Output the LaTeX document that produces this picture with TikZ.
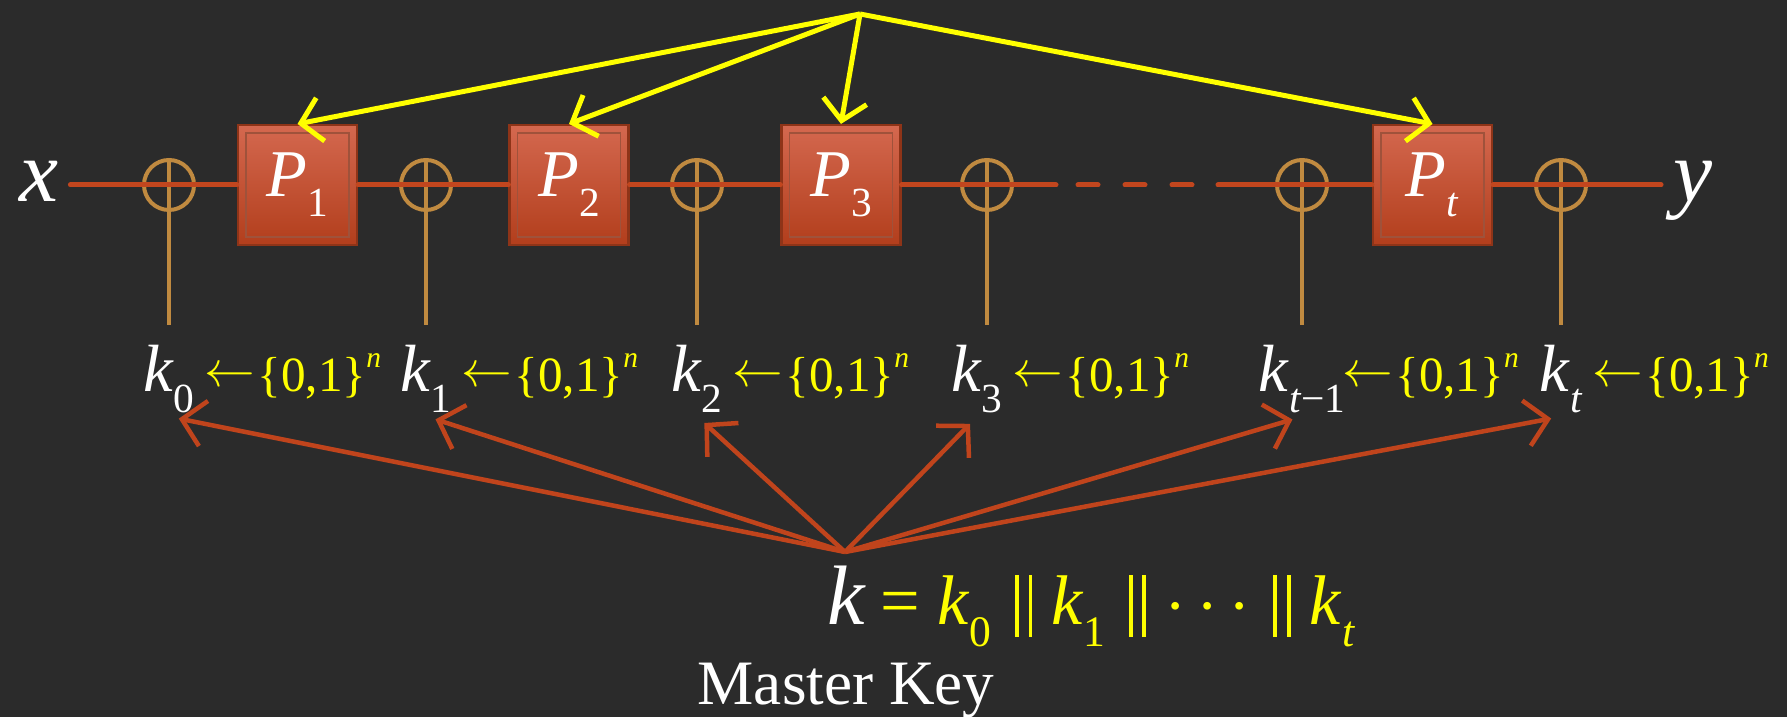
\documentclass[tikz,border=0pt]{standalone}
\usepackage{fontspec}
\setmainfont{Liberation Serif}
\usepackage{graphicx}
\usepackage{tikz}
\usetikzlibrary{arrows.meta,positioning}
\definecolor{slate}{HTML}{2B2B2B}
\definecolor{wirered}{HTML}{C2461E}
\definecolor{xortan}{HTML}{C08A40}
\definecolor{boxtop}{HTML}{D4684F}
\definecolor{boxbot}{HTML}{B23E1C}
\definecolor{boxedge}{HTML}{8E3418}
\definecolor{keyyel}{HTML}{FFFF00}
\definecolor{keyred}{HTML}{C0441C}

\newcommand{\fsz}[1]{\fontsize{#1}{#1}\selectfont}
\newcommand{\lo}[1]{\raisebox{-0.3em}{\scalebox{0.62}{\upshape #1}}}
\newcommand{\hi}[1]{\raisebox{0.5em}{\scalebox{0.6}{\itshape #1}}}
\newcommand{\cat}{\hspace{0.33em}\rule[-0.17em]{1.1pt}{0.88em}\hspace{2.8pt}\rule[-0.17em]{1.1pt}{0.88em}\hspace{0.27em}}
\newcommand{\getsfrom}{\kern0.1em\raisebox{0.12em}{$\leftarrow$}\kern0.05em}

\begin{document}
\begin{tikzpicture}[
    wire/.style={wirered, line width=0.5mm, line cap=round},
    xor/.style={circle, draw=xortan, line width=0.4mm, minimum size=0.5cm, inner sep=0pt},
    xorline/.style={xortan, line width=0.4mm},
    perm/.style={draw=boxedge, line width=0.6pt, top color=boxtop, bottom color=boxbot,
      minimum width=1.19cm, minimum height=1.2cm, inner sep=0pt, text=white, font=\fsz{19},
      path picture={\draw[boxedge!85, line width=0.5pt]
        ([shift={(0.08,-0.08)}]path picture bounding box.north west) rectangle
        ([shift={(-0.08,0.08)}]path picture bounding box.south east);}},
    kname/.style={text=white, font=\fsz{19}, anchor=base, inner sep=1pt},
    kset/.style={text=keyyel, font=\fsz{14}, anchor=base west, inner sep=0pt},
    permarrow/.style={-{Straight Barb[length=2mm,width=4.4mm]}, keyyel, line width=0.5mm},
    keyarrow/.style={-{Straight Barb[length=2.2mm,width=4.6mm]}, keyred, line width=0.45mm, shorten >=1mm}
  ]
  \useasboundingbox (0,0) rectangle (17.87,-7.17);
  \fill[slate] (0,0) rectangle (17.87,-7.17);

  % input and output
  \node[text=white, font=\fsz{25}, anchor=base] (xin) at (0.385,-2.02) {\textit{x}};
  \node[text=white, font=\fsz{25}, anchor=base] (yout) at (16.93,-2.02) {\textit{y}};

  % key additions
  \foreach \nm/\xx in {c0/1.69, c1/4.26, c2/6.97, c3/9.87, ct1/13.02, ct/15.61}{
    \node[xor] (\nm) at (\xx,-1.85) {};
    \coordinate (\nm s) at (\xx,-3.25);
    \draw[xorline] (\nm.north) -- (\nm s);
  }

  % permutations
  \node[perm] (p1) at (2.975,-1.85) {\textit{P}\lo{1}};
  \node[perm] (p2) at (5.69,-1.85) {\textit{P}\lo{2}};
  \node[perm] (p3) at (8.41,-1.85) {\textit{P}\lo{3}};
  \node[perm] (pt) at (14.325,-1.85) {\textit{P}\lo{\textit{t}}};

  \coordinate (d1) at (10.56,-1.85);
  \coordinate (d2) at (12.18,-1.85);
  \draw[wire] (xin.east |- c0.center) -- (c0.center) -- (p1);
  \draw[wire] (p1) -- (c1.center) -- (p2);
  \draw[wire] (p2) -- (c2.center) -- (p3);
  \draw[wire] (p3) -- (c3.center) -- (d1);
  \draw[wire, dash pattern=on 0.2cm off 0.27cm, dash phase=0.25cm] (d1) -- (d2);
  \draw[wire] (d2) -- (ct1.center) -- (pt);
  \draw[wire] (pt) -- (ct.center) -- (yout.west |- ct.center);

  % round keys
  \node[kname] (k0) at (1.69,-3.92) {\textit{k}\lo{0}};
  \node[kname] (k1) at (4.26,-3.92) {\textit{k}\lo{1}};
  \node[kname] (k2) at (6.97,-3.92) {\textit{k}\lo{2}};
  \node[kname] (k3) at (9.77,-3.92) {\textit{k}\lo{3}};
  \node[kname] (kt1) at (13.02,-3.92) {\textit{k}\lo{\textit{t}−1}};
  \node[kname] (kt) at (15.61,-3.92) {\textit{k}\lo{\textit{t}}};
  \foreach \nm in {k0,k1,k2,k3,kt}
    \node[kset] (\nm set) at (\nm.base east) {\getsfrom\{0,1\}\hi{n}};
  \node[kset, xshift=-0.13cm] (kt1set) at (kt1.base east) {\getsfrom\{0,1\}\hi{n}};

  % public permutations
  \coordinate (pk) at (8.60,-0.14);
  \foreach \nm in {p1,p2,p3,pt}
    \draw[permarrow] (pk) -- (\nm.north);

  % master key
  \coordinate (mk) at (8.45,-5.52);
  \foreach \nm in {k0,k1,k2,k3,kt1,kt}
    \draw[keyarrow] (mk) -- (\nm.south);
  \node[anchor=base west, inner sep=0pt, text=white, font=\fsz{24}] (mkey) at (8.27,-6.25)
    {\textit{k}\,{\color{keyyel}\fsz{20}= \textit{k}\lo{0}\cat\textit{k}\lo{1}\cat$\cdots$\cat\textit{k}\lo{\textit{t}}}};
  \node[anchor=base west, inner sep=0pt, text=white, font=\fsz{18}] (mlab) at (6.97,-7.05) {Master Key};
\end{tikzpicture}
\end{document}
